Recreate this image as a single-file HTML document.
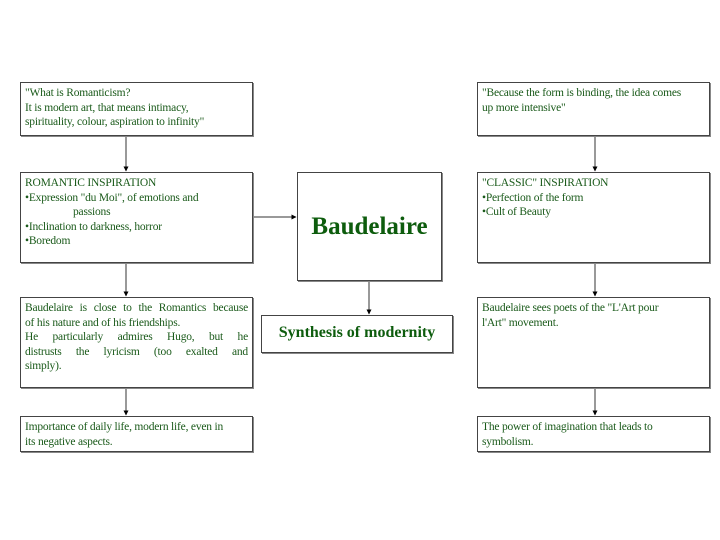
<!DOCTYPE html>
<html><head><style>
body{margin:0;width:720px;height:540px;background:#fff;position:relative;overflow:hidden;font-family:"Liberation Serif",serif;}
.b{position:absolute;border:1px solid #444;box-sizing:border-box;background:#fff;color:#1a5a1a;font-size:11.5px;letter-spacing:-0.2px;line-height:14.5px;padding:3px 4px;box-shadow:1px 1px 0 #888;white-space:nowrap;}
.jl{display:block;text-align:justify;text-align-last:justify;}
svg{position:absolute;left:0;top:0;}
</style></head><body>
<svg width="720" height="540">
<defs><marker id="a" markerWidth="5" markerHeight="5" refX="4.5" refY="2.5" orient="auto"><path d="M0,0L5,2.5L0,5z" fill="#000"/></marker></defs>
<g stroke="#333" stroke-width="1" marker-end="url(#a)">
<line x1="126" y1="135" x2="126" y2="171"/>
<line x1="126" y1="262" x2="126" y2="296"/>
<line x1="126" y1="387" x2="126" y2="415"/>
<line x1="595" y1="135" x2="595" y2="171"/>
<line x1="595" y1="262" x2="595" y2="296"/>
<line x1="595" y1="387" x2="595" y2="415"/>
<line x1="252" y1="217" x2="296" y2="217"/>
<line x1="369" y1="280" x2="369" y2="314"/>
</g>
</svg>
<div class="b" style="left:20px;top:82px;width:233px;height:54px;">"What is Romanticism?<br>It is modern art, that means intimacy,<br>spirituality, colour, aspiration to infinity"</div>
<div class="b" style="left:20px;top:172px;width:233px;height:91px;">ROMANTIC INSPIRATION<br>•Expression "du Moi", of emotions and<br><span style="padding-left:48px">passions</span><br>•Inclination to darkness, horror<br>•Boredom</div>
<div class="b" style="left:20px;top:297px;width:233px;height:91px;"><span class="jl">Baudelaire is close to the Romantics because</span>of his nature and of his friendships.<br><span class="jl">He particularly admires Hugo, but he</span><span class="jl">distrusts the lyricism (too exalted and</span>simply).</div>
<div class="b" style="left:20px;top:416px;width:233px;height:36px;">Importance of daily life, modern life, even in<br>its negative aspects.</div>
<div class="b" style="left:477px;top:82px;width:233px;height:54px;">"Because the form is binding, the idea comes<br>up more intensive"</div>
<div class="b" style="left:477px;top:172px;width:233px;height:91px;">"CLASSIC" INSPIRATION<br>•Perfection of the form<br>•Cult of Beauty</div>
<div class="b" style="left:477px;top:297px;width:233px;height:91px;">Baudelaire sees poets of the "L'Art pour<br>l'Art" movement.</div>
<div class="b" style="left:477px;top:416px;width:233px;height:36px;">The power of imagination that leads to<br>symbolism.</div>
<div class="b" style="left:297px;top:172px;width:145px;height:109px;font-size:25px;letter-spacing:0;font-weight:bold;color:#0d5c0d;line-height:25px;padding-top:41px;text-align:center;">Baudelaire</div>
<div class="b" style="left:261px;top:315px;width:192px;height:38px;font-size:16px;letter-spacing:0;font-weight:bold;color:#0d5c0d;line-height:18px;padding-top:8px;text-align:center;">Synthesis of modernity</div>
</body></html>
